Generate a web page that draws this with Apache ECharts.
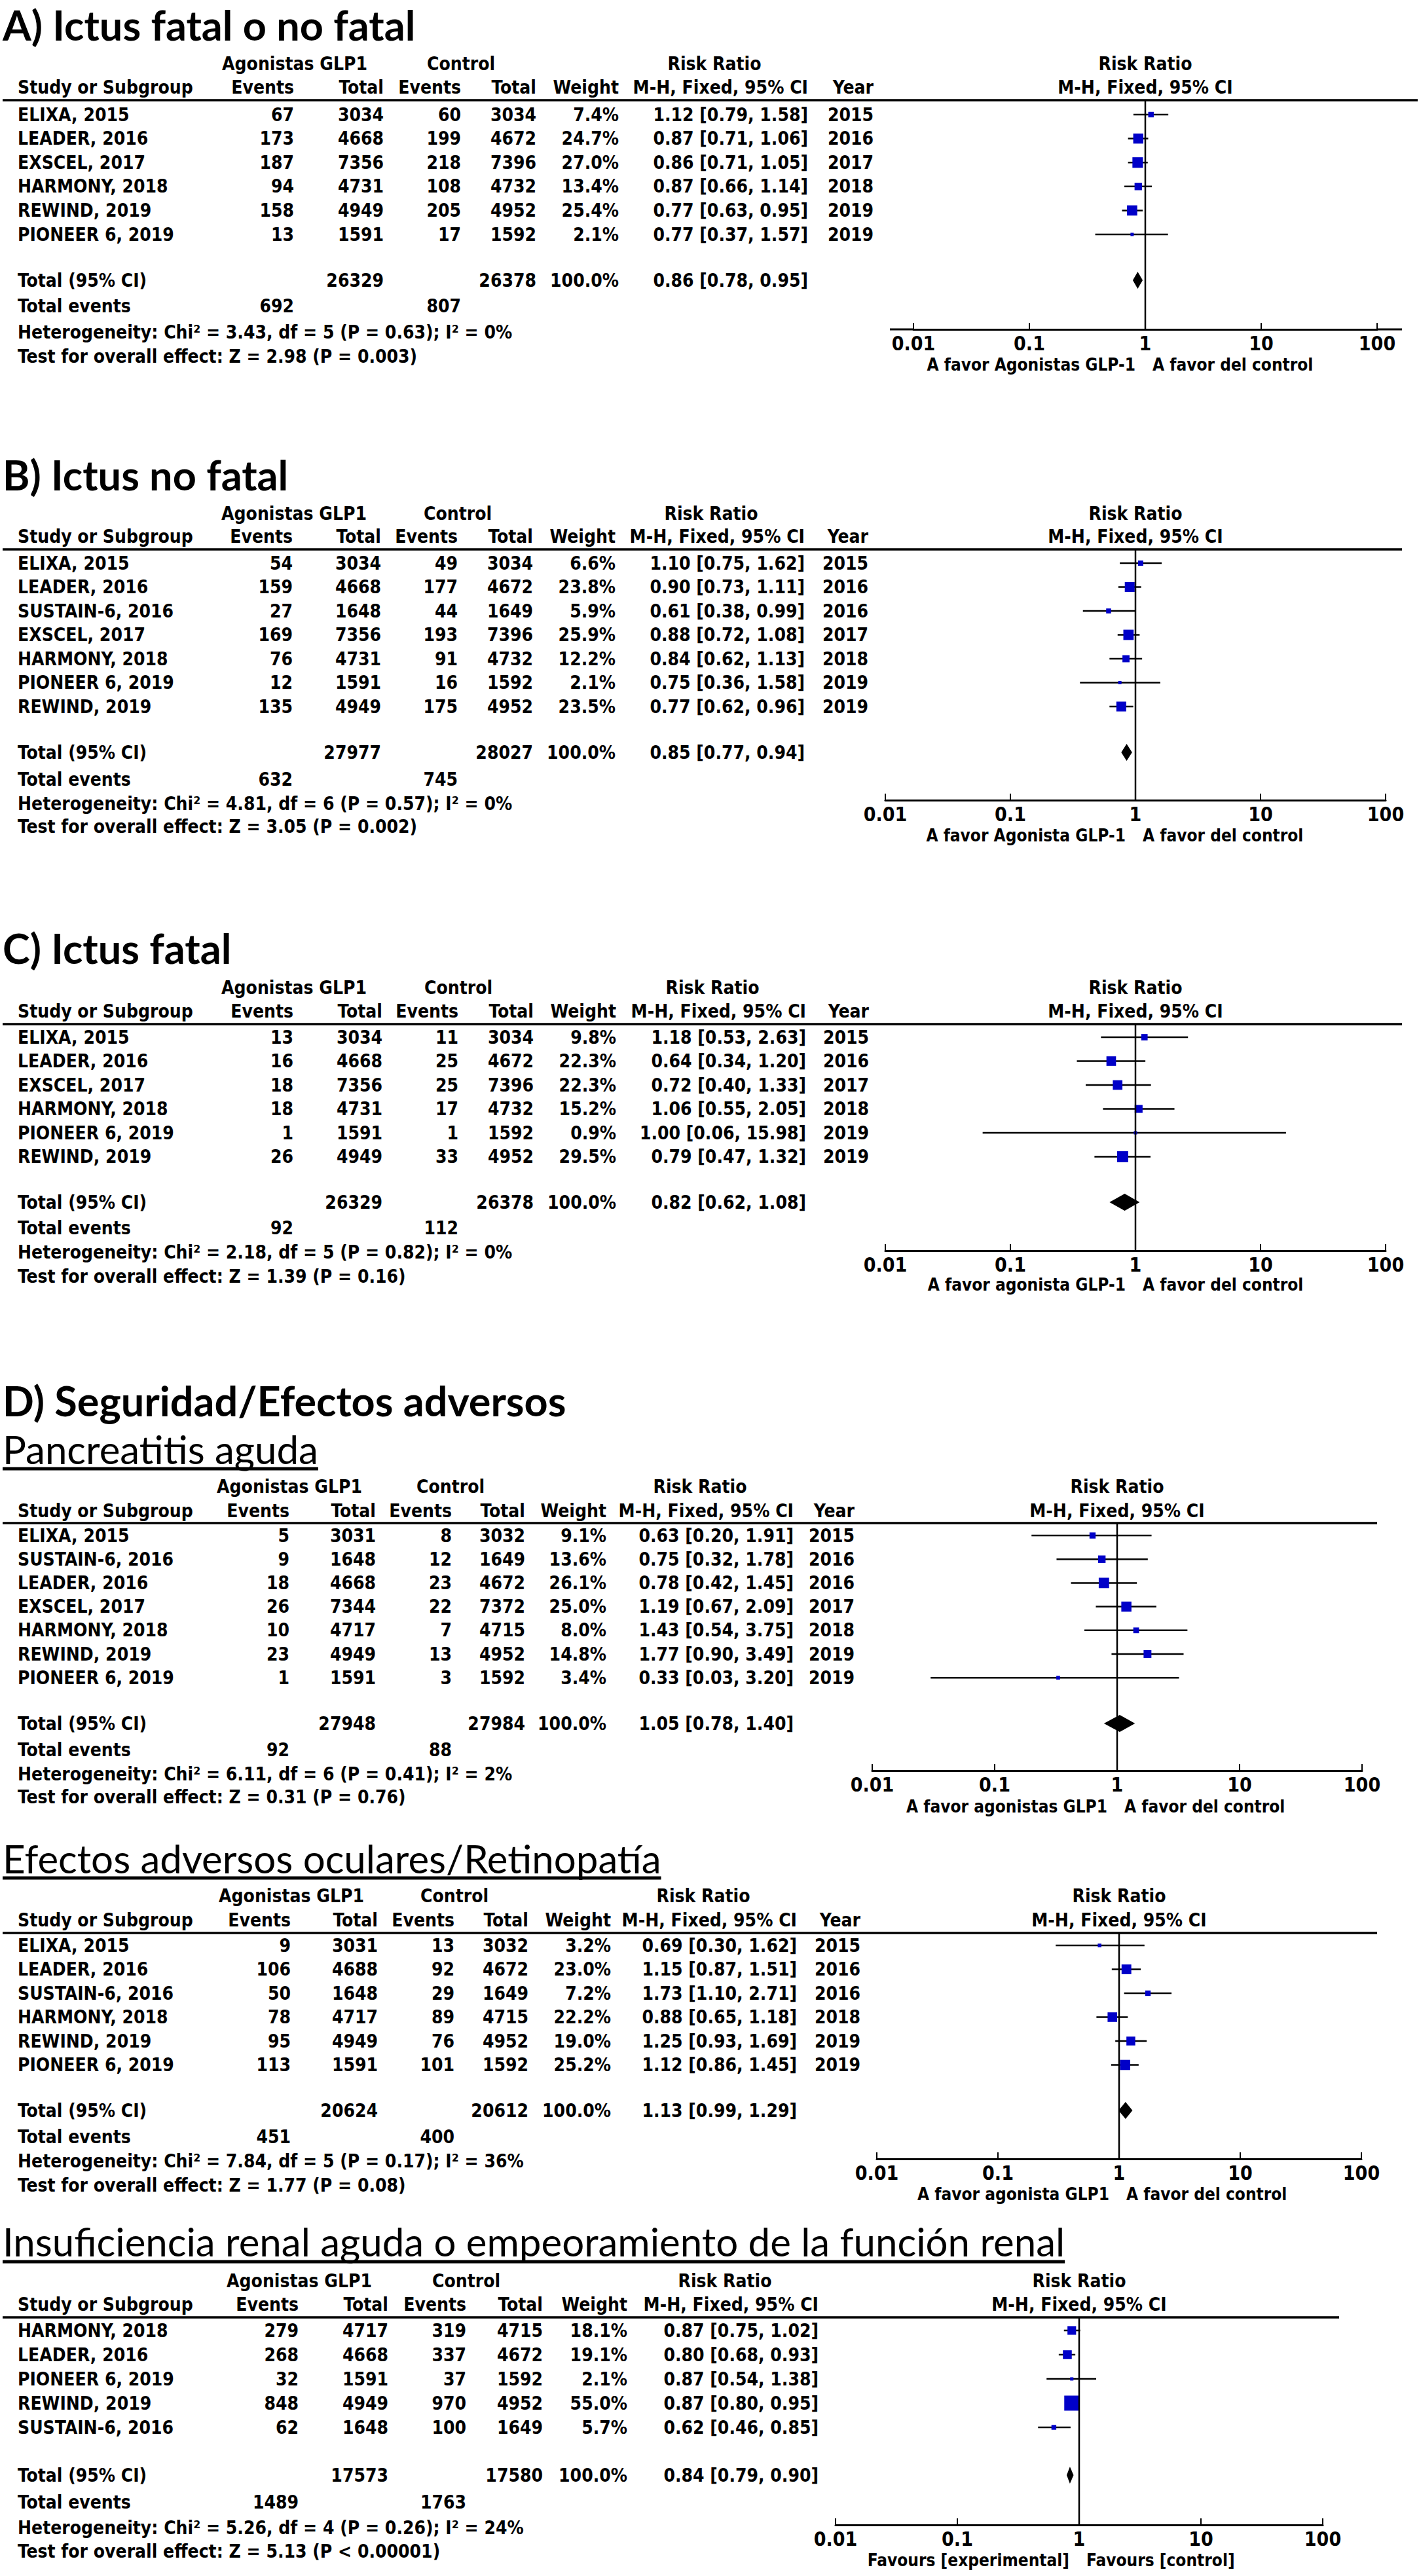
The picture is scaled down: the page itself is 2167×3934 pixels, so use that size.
<!DOCTYPE html>
<html><head><meta charset="utf-8">
<script src="https://cdn.jsdelivr.net/npm/echarts@6/dist/echarts.min.js"></script>
<style>html,body{margin:0;padding:0;background:#fff}#c{width:2167px;height:3934px}</style>
</head><body><div id="c"></div>
<script>
// ---------------- DATA ----------------
const tickLabels = ['0.01', '0.1', '1', '10', '100'];

// A) Ictus fatal o no fatal
const studiesA = ['ELIXA, 2015', 'LEADER, 2016', 'EXSCEL, 2017', 'HARMONY, 2018', 'REWIND, 2019', 'PIONEER 6, 2019'];
const expEventsA = [67, 173, 187, 94, 158, 13];
const expTotalA = [3034, 4668, 7356, 4731, 4949, 1591];
const ctlEventsA = [60, 199, 218, 108, 205, 17];
const ctlTotalA = [3034, 4672, 7396, 4732, 4952, 1592];
const weightA = [7.4, 24.7, 27.0, 13.4, 25.4, 2.1];
const rrA = [1.12, 0.87, 0.86, 0.87, 0.77, 0.77];
const ciLowA = [0.79, 0.71, 0.71, 0.66, 0.63, 0.37];
const ciHighA = [1.58, 1.06, 1.05, 1.14, 0.95, 1.57];
const yearA = [2015, 2016, 2017, 2018, 2019, 2019];
const totalA = [26329, 26378];
const totalRrA = [0.86, 0.78, 0.95];
const totalEventsA = [692, 807];
const hetA = 'Heterogeneity: Chi² = 3.43, df = 5 (P = 0.63); I² = 0%';
const testA = 'Test for overall effect: Z = 2.98 (P = 0.003)';
const captionA = ['A favor Agonistas GLP-1', 'A favor del control'];

// B) Ictus no fatal
const studiesB = ['ELIXA, 2015', 'LEADER, 2016', 'SUSTAIN-6, 2016', 'EXSCEL, 2017', 'HARMONY, 2018', 'PIONEER 6, 2019', 'REWIND, 2019'];
const expEventsB = [54, 159, 27, 169, 76, 12, 135];
const expTotalB = [3034, 4668, 1648, 7356, 4731, 1591, 4949];
const ctlEventsB = [49, 177, 44, 193, 91, 16, 175];
const ctlTotalB = [3034, 4672, 1649, 7396, 4732, 1592, 4952];
const weightB = [6.6, 23.8, 5.9, 25.9, 12.2, 2.1, 23.5];
const rrB = [1.10, 0.90, 0.61, 0.88, 0.84, 0.75, 0.77];
const ciLowB = [0.75, 0.73, 0.38, 0.72, 0.62, 0.36, 0.62];
const ciHighB = [1.62, 1.11, 0.99, 1.08, 1.13, 1.58, 0.96];
const yearB = [2015, 2016, 2016, 2017, 2018, 2019, 2019];
const totalB = [27977, 28027];
const totalRrB = [0.85, 0.77, 0.94];
const totalEventsB = [632, 745];
const hetB = 'Heterogeneity: Chi² = 4.81, df = 6 (P = 0.57); I² = 0%';
const testB = 'Test for overall effect: Z = 3.05 (P = 0.002)';
const captionB = ['A favor Agonista GLP-1', 'A favor del control'];

// C) Ictus fatal
const studiesC = ['ELIXA, 2015', 'LEADER, 2016', 'EXSCEL, 2017', 'HARMONY, 2018', 'PIONEER 6, 2019', 'REWIND, 2019'];
const expEventsC = [13, 16, 18, 18, 1, 26];
const expTotalC = [3034, 4668, 7356, 4731, 1591, 4949];
const ctlEventsC = [11, 25, 25, 17, 1, 33];
const ctlTotalC = [3034, 4672, 7396, 4732, 1592, 4952];
const weightC = [9.8, 22.3, 22.3, 15.2, 0.9, 29.5];
const rrC = [1.18, 0.64, 0.72, 1.06, 1.00, 0.79];
const ciLowC = [0.53, 0.34, 0.40, 0.55, 0.06, 0.47];
const ciHighC = [2.63, 1.20, 1.33, 2.05, 15.98, 1.32];
const yearC = [2015, 2016, 2017, 2018, 2019, 2019];
const totalC = [26329, 26378];
const totalRrC = [0.82, 0.62, 1.08];
const totalEventsC = [92, 112];
const hetC = 'Heterogeneity: Chi² = 2.18, df = 5 (P = 0.82); I² = 0%';
const testC = 'Test for overall effect: Z = 1.39 (P = 0.16)';
const captionC = ['A favor agonista GLP-1', 'A favor del control'];

// D1) Pancreatitis aguda
const studiesP = ['ELIXA, 2015', 'SUSTAIN-6, 2016', 'LEADER, 2016', 'EXSCEL, 2017', 'HARMONY, 2018', 'REWIND, 2019', 'PIONEER 6, 2019'];
const expEventsP = [5, 9, 18, 26, 10, 23, 1];
const expTotalP = [3031, 1648, 4668, 7344, 4717, 4949, 1591];
const ctlEventsP = [8, 12, 23, 22, 7, 13, 3];
const ctlTotalP = [3032, 1649, 4672, 7372, 4715, 4952, 1592];
const weightP = [9.1, 13.6, 26.1, 25.0, 8.0, 14.8, 3.4];
const rrP = [0.63, 0.75, 0.78, 1.19, 1.43, 1.77, 0.33];
const ciLowP = [0.20, 0.32, 0.42, 0.67, 0.54, 0.90, 0.03];
const ciHighP = [1.91, 1.78, 1.45, 2.09, 3.75, 3.49, 3.20];
const yearP = [2015, 2016, 2016, 2017, 2018, 2019, 2019];
const totalP = [27948, 27984];
const totalRrP = [1.05, 0.78, 1.40];
const totalEventsP = [92, 88];
const hetP = 'Heterogeneity: Chi² = 6.11, df = 6 (P = 0.41); I² = 2%';
const testP = 'Test for overall effect: Z = 0.31 (P = 0.76)';
const captionP = ['A favor agonistas GLP1', 'A favor del control'];

// D2) Efectos adversos oculares/Retinopatía
const studiesO = ['ELIXA, 2015', 'LEADER, 2016', 'SUSTAIN-6, 2016', 'HARMONY, 2018', 'REWIND, 2019', 'PIONEER 6, 2019'];
const expEventsO = [9, 106, 50, 78, 95, 113];
const expTotalO = [3031, 4688, 1648, 4717, 4949, 1591];
const ctlEventsO = [13, 92, 29, 89, 76, 101];
const ctlTotalO = [3032, 4672, 1649, 4715, 4952, 1592];
const weightO = [3.2, 23.0, 7.2, 22.2, 19.0, 25.2];
const rrO = [0.69, 1.15, 1.73, 0.88, 1.25, 1.12];
const ciLowO = [0.30, 0.87, 1.10, 0.65, 0.93, 0.86];
const ciHighO = [1.62, 1.51, 2.71, 1.18, 1.69, 1.45];
const yearO = [2015, 2016, 2016, 2018, 2019, 2019];
const totalO = [20624, 20612];
const totalRrO = [1.13, 0.99, 1.29];
const totalEventsO = [451, 400];
const hetO = 'Heterogeneity: Chi² = 7.84, df = 5 (P = 0.17); I² = 36%';
const testO = 'Test for overall effect: Z = 1.77 (P = 0.08)';
const captionO = ['A favor agonista GLP1', 'A favor del control'];

// D3) Insuficiencia renal aguda
const studiesR = ['HARMONY, 2018', 'LEADER, 2016', 'PIONEER 6, 2019', 'REWIND, 2019', 'SUSTAIN-6, 2016'];
const expEventsR = [279, 268, 32, 848, 62];
const expTotalR = [4717, 4668, 1591, 4949, 1648];
const ctlEventsR = [319, 337, 37, 970, 100];
const ctlTotalR = [4715, 4672, 1592, 4952, 1649];
const weightR = [18.1, 19.1, 2.1, 55.0, 5.7];
const rrR = [0.87, 0.80, 0.87, 0.87, 0.62];
const ciLowR = [0.75, 0.68, 0.54, 0.80, 0.46];
const ciHighR = [1.02, 0.93, 1.38, 0.95, 0.85];
const yearR = null;
const totalR = [17573, 17580];
const totalRrR = [0.84, 0.79, 0.90];
const totalEventsR = [1489, 1763];
const hetR = 'Heterogeneity: Chi² = 5.26, df = 4 (P = 0.26); I² = 24%';
const testR = 'Test for overall effect: Z = 5.13 (P < 0.00001)';
const captionR = ['Favours [experimental]', 'Favours [control]'];

// ---------------- LAYOUT (pixels) ----------------
const layoutA = {titleY:37, h1:97, h2:133, line:153, lineRight:2165, row0:175, pitch:36.6, totalY:428, evY:467, hetY:507, testY:544, axisY:503, x1:1749, dec:177, axisExt:[1359,2141], capY:557, c:[449,586,704,819,945,1234,1334], g:[450,704]};
const layoutB = {titleY:724, h1:784, h2:819, line:839, lineRight:2141, row0:860, pitch:36.5, totalY:1149, evY:1190, hetY:1227, testY:1262, axisY:1222, x1:1734, dec:191, capY:1276, c:[447,582,699,814,940,1229,1326], g:[449,699]};
const layoutC = {titleY:1447, h1:1508, h2:1544, line:1564, lineRight:2141, row0:1584, pitch:36.5, totalY:1836, evY:1875, hetY:1912, testY:1949, axisY:1910, x1:1734, dec:191, capY:1962, c:[448,584,700,815,941,1231,1327], g:[449,700]};
const layoutP = {titleY:2213, ulY:2243, h1:2270, h2:2307, line:2326, lineRight:2103, row0:2345, pitch:36.2, totalY:2632, evY:2672, hetY:2709, testY:2744, axisY:2704, x1:1706, dec:187, capY:2759, c:[442,574,690,802,926,1212,1305], g:[442,688]};
const layoutO = {titleY:2838, ulY:2868, h1:2895, h2:2932, line:2952, lineRight:2103, row0:2971, pitch:36.5, totalY:3223, evY:3263, hetY:3300, testY:3337, axisY:3297, x1:1709, dec:185, capY:3351, c:[444,577,694,807,933,1217,1314], g:[445,694]};
const layoutR = {titleY:3423, ulY:3454, h1:3483, h2:3519, line:3539, lineRight:2045, row0:3559, pitch:37, totalY:3780, evY:3821, hetY:3860, testY:3896, axisY:3856, x1:1648, dec:186, capY:3910, c:[456,593,712,829,958,1250,null], g:[457,712]};

const panels = [
  {title:'A) Ictus fatal o no fatal', sub:false, s:studiesA, e1:expEventsA, t1:expTotalA, e2:ctlEventsA, t2:ctlTotalA, w:weightA, rr:rrA, lo:ciLowA, hi:ciHighA, yr:yearA, tot:totalA, trr:totalRrA, tev:totalEventsA, het:hetA, test:testA, cap:captionA, L:layoutA},
  {title:'B) Ictus no fatal', sub:false, s:studiesB, e1:expEventsB, t1:expTotalB, e2:ctlEventsB, t2:ctlTotalB, w:weightB, rr:rrB, lo:ciLowB, hi:ciHighB, yr:yearB, tot:totalB, trr:totalRrB, tev:totalEventsB, het:hetB, test:testB, cap:captionB, L:layoutB},
  {title:'C) Ictus fatal', sub:false, s:studiesC, e1:expEventsC, t1:expTotalC, e2:ctlEventsC, t2:ctlTotalC, w:weightC, rr:rrC, lo:ciLowC, hi:ciHighC, yr:yearC, tot:totalC, trr:totalRrC, tev:totalEventsC, het:hetC, test:testC, cap:captionC, L:layoutC},
  {title:'Pancreatitis aguda', sub:true, s:studiesP, e1:expEventsP, t1:expTotalP, e2:ctlEventsP, t2:ctlTotalP, w:weightP, rr:rrP, lo:ciLowP, hi:ciHighP, yr:yearP, tot:totalP, trr:totalRrP, tev:totalEventsP, het:hetP, test:testP, cap:captionP, L:layoutP},
  {title:'Efectos adversos oculares/Retinopatía', sub:true, s:studiesO, e1:expEventsO, t1:expTotalO, e2:ctlEventsO, t2:ctlTotalO, w:weightO, rr:rrO, lo:ciLowO, hi:ciHighO, yr:yearO, tot:totalO, trr:totalRrO, tev:totalEventsO, het:hetO, test:testO, cap:captionO, L:layoutO},
  {title:'Insuficiencia renal aguda o empeoramiento de la función renal', sub:true, s:studiesR, e1:expEventsR, t1:expTotalR, e2:ctlEventsR, t2:ctlTotalR, w:weightR, rr:rrR, lo:ciLowR, hi:ciHighR, yr:yearR, tot:totalR, trr:totalRrR, tev:totalEventsR, het:hetR, test:testR, cap:captionR, L:layoutR}
];
const sectionTitleD = {text:'D) Seguridad/Efectos adversos', y:2138};

// ---------------- STYLES ----------------
const TF = '"DejaVu Sans Condensed", "Liberation Sans", sans-serif';
const FONT = 'bold 28px ' + TF;
const CAPFONT = 'bold 26px ' + TF;
const TITLEFONT = 'bold 63px Lato, "Open Sans", sans-serif';
const SUBFONT = '60px Lato, "Open Sans", sans-serif';
const BLUE = '#0000c8';

const measureCtx = document.createElement('canvas').getContext('2d');
function textWidth(t, f){ measureCtx.font = f; return measureCtx.measureText(t).width; }

const graphic = [];
function txt(text, x, y, align, font){
  graphic.push({type:'text', x:x, y:y, silent:true, z:10,
    style:{text:String(text), font:font || FONT, fill:'#000', textAlign:align, textVerticalAlign:'middle', align:align, verticalAlign:'middle'}});
}
function hline(x1, x2, y, w){
  graphic.push({type:'line', silent:true, z:5, shape:{x1:x1, y1:y, x2:x2, y2:y}, style:{stroke:'#000', lineWidth:w}});
}
const fmt2 = v => v.toFixed(2);
const rrText = (r, l, h) => fmt2(r) + ' [' + fmt2(l) + ', ' + fmt2(h) + ']';

function renderStudy(params, api){
  const r = api.value(0), row = api.value(1), l = api.value(2), h = api.value(3), w = api.value(4);
  const pL = api.coord([l, row]), pR = api.coord([h, row]), pC = api.coord([r, row]);
  const s = Math.max(5, 3.1 * Math.sqrt(w));
  return {type:'group', children:[
    {type:'line', shape:{x1:pL[0], y1:pL[1], x2:pR[0], y2:pR[1]}, style:{stroke:'#000', lineWidth:2.5}},
    {type:'rect', shape:{x:pC[0]-s/2, y:pC[1]-s/2, width:s, height:s}, style:{fill:BLUE}}
  ]};
}
function renderTotal(params, api){
  const r = api.value(0), row = api.value(1), l = api.value(2), h = api.value(3);
  const pL = api.coord([l, row]), pR = api.coord([h, row]), pC = api.coord([r, row]);
  const hh = 13;
  return {type:'polygon', shape:{points:[[pL[0], pC[1]], [pC[0], pC[1]-hh], [pR[0], pC[1]], [pC[0], pC[1]+hh]]}, style:{fill:'#000'}};
}

const grids = [], xAxes = [], yAxes = [], series = [];
panels.forEach((p, k) => {
  const L = p.L;
  const yMin = (L.line - L.row0) / L.pitch, yMax = (L.axisY - L.row0) / L.pitch;
  const totRow = (L.totalY - L.row0) / L.pitch;
  grids.push({left:L.x1 - 2*L.dec, width:4*L.dec, top:L.line, height:L.axisY - L.line, containLabel:false});
  xAxes.push({type:'log', logBase:10, min:0.01, max:100, gridIndex:k, position:'bottom',
    axisLine:{show:true, onZero:false, lineStyle:{color:'#000', width:3}},
    axisTick:{show:true, inside:true, length:10, lineStyle:{color:'#000', width:2}},
    minorTick:{show:false}, splitLine:{show:false},
    axisLabel:{show:true, margin:6, color:'#000', fontSize:30, fontWeight:'bold', fontFamily:TF,
      showMinLabel:true, showMaxLabel:true,
      formatter: v => tickLabels[Math.round(Math.log10(v)) + 2]}});
  yAxes.push({type:'value', gridIndex:k, inverse:true, min:yMin, max:yMax, show:false});
  series.push({type:'custom', xAxisIndex:k, yAxisIndex:k, renderItem:renderStudy, clip:false, silent:true, animation:false,
    encode:{x:[0,2,3], y:1}, data:p.rr.map((v, i) => [v, i, p.lo[i], p.hi[i], p.w[i]])});
  series.push({type:'custom', xAxisIndex:k, yAxisIndex:k, renderItem:renderTotal, clip:false, silent:true, animation:false,
    encode:{x:[0,2,3], y:1}, data:[[p.trr[0], totRow, p.trr[1], p.trr[2]]]});
  series.push({type:'line', xAxisIndex:k, yAxisIndex:k, symbol:'none', silent:true, animation:false,
    lineStyle:{color:'#000', width:2.5}, data:[[1, yMin], [1, yMax]]});

  if (L.axisExt){
    hline(L.axisExt[0], L.x1 - 2*L.dec, L.axisY, 3);
    hline(L.x1 + 2*L.dec, L.axisExt[1], L.axisY, 3);
  }

  // title
  if (p.sub){
    txt(p.title, 4, L.titleY, 'left', SUBFONT);
    hline(4, 4 + textWidth(p.title, SUBFONT), L.ulY, 5);
  } else {
    txt(p.title, 4, L.titleY, 'left', TITLEFONT);
  }
  const c = L.c;
  // headers
  txt('Agonistas GLP1', L.g[0], L.h1, 'center');
  txt('Control', L.g[1], L.h1, 'center');
  txt('Risk Ratio', c[5] - 143, L.h1, 'center');
  txt('Risk Ratio', L.x1, L.h1, 'center');
  txt('Study or Subgroup', 27, L.h2, 'left');
  txt('Events', c[0], L.h2, 'right');
  txt('Total', c[1], L.h2, 'right');
  txt('Events', c[2], L.h2, 'right');
  txt('Total', c[3], L.h2, 'right');
  txt('Weight', c[4], L.h2, 'right');
  txt('M-H, Fixed, 95% CI', c[5], L.h2, 'right');
  if (c[6]) txt('Year', c[6], L.h2, 'right');
  txt('M-H, Fixed, 95% CI', L.x1, L.h2, 'center');
  hline(4, L.lineRight, L.line, 3.5);
  // rows
  p.s.forEach((name, i) => {
    const y = L.row0 + i * L.pitch;
    txt(name, 27, y, 'left');
    txt(p.e1[i], c[0], y, 'right');
    txt(p.t1[i], c[1], y, 'right');
    txt(p.e2[i], c[2], y, 'right');
    txt(p.t2[i], c[3], y, 'right');
    txt(p.w[i].toFixed(1) + '%', c[4], y, 'right');
    txt(rrText(p.rr[i], p.lo[i], p.hi[i]), c[5], y, 'right');
    if (p.yr) txt(p.yr[i], c[6], y, 'right');
  });
  // totals
  txt('Total (95% CI)', 27, L.totalY, 'left');
  txt(p.tot[0], c[1], L.totalY, 'right');
  txt(p.tot[1], c[3], L.totalY, 'right');
  txt('100.0%', c[4], L.totalY, 'right');
  txt(rrText(p.trr[0], p.trr[1], p.trr[2]), c[5], L.totalY, 'right');
  txt('Total events', 27, L.evY, 'left');
  txt(p.tev[0], c[0], L.evY, 'right');
  txt(p.tev[1], c[2], L.evY, 'right');
  txt(p.het, 27, L.hetY, 'left');
  txt(p.test, 27, L.testY, 'left');
  // caption
  txt(p.cap[0], L.x1 - 15, L.capY, 'right', CAPFONT);
  txt(p.cap[1], L.x1 + 11, L.capY, 'left', CAPFONT);
});
txt(sectionTitleD.text, 4, sectionTitleD.y, 'left', TITLEFONT);

const chart = echarts.init(document.getElementById('c'), null, {renderer:'svg', width:2167, height:3934});
chart.setOption({
  animation:false,
  backgroundColor:'#fff',
  grid:grids, xAxis:xAxes, yAxis:yAxes, series:series, graphic:graphic
});
</script>
</body></html>
